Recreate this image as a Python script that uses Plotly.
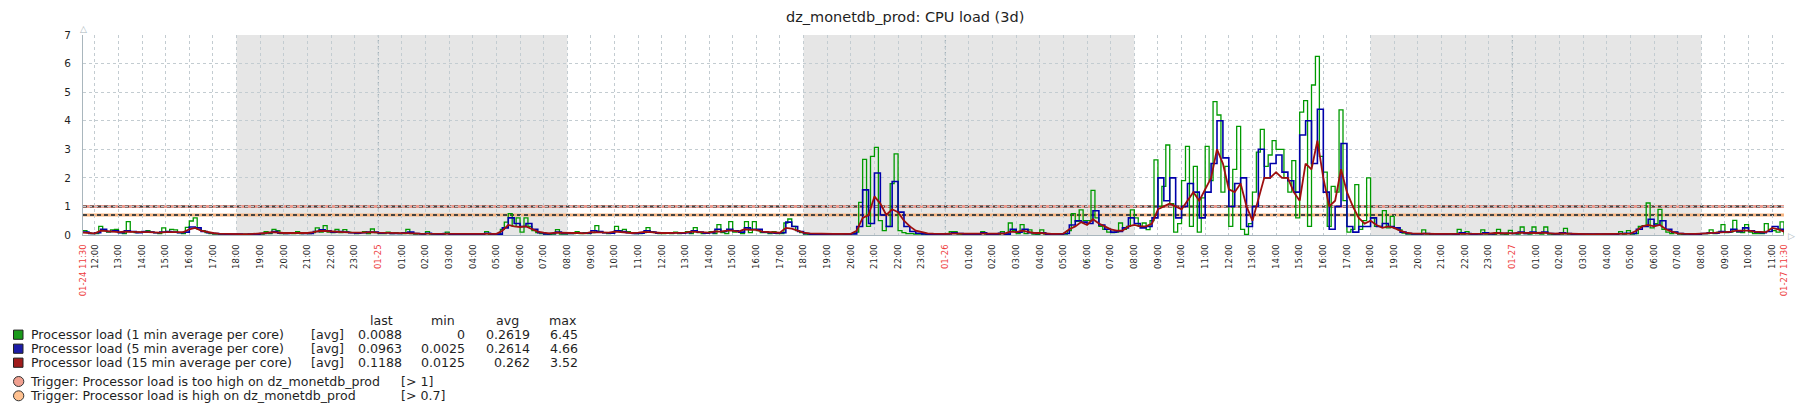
import plotly.graph_objects as go
import pandas as pd

# ---------------- data ----------------
START = "2025-01-24 11:30"
END = "2025-01-27 11:30"

# Processor load (1 min average per core), 10-minute steps from START
green = [
 0.15, 0.08, 0.05,
 0.05, 0.3, 0.15, 0.1, 0.18, 0.2,
 0.08, 0.05, 0.47, 0.12, 0.08, 0.1,
 0.12, 0.15, 0.1, 0.08, 0.05, 0.25,
 0.1, 0.2, 0.18, 0.08, 0.05, 0.27,
 0.49, 0.6, 0.2, 0.15, 0.08, 0.05,
 0.03, 0.03, 0.02, 0.03, 0.02, 0.02,
 0.02, 0.02, 0.03, 0.02, 0.02, 0.02,
 0.03, 0.12, 0.05, 0.2, 0.15, 0.05,
 0.05, 0.08, 0.05, 0.12, 0.05, 0.08,
 0.05, 0.08, 0.25, 0.1, 0.33, 0.1,
 0.08, 0.2, 0.08, 0.19, 0.1, 0.08,
 0.05, 0.08, 0.12, 0.05, 0.21, 0.08,
 0.05, 0.05, 0.1, 0.05, 0.08, 0.05,
 0.05, 0.2, 0.05, 0.03, 0.05, 0.03,
 0.12, 0.03, 0.02, 0.03, 0.02, 0.1,
 0.03, 0.02, 0.02, 0.03, 0.02, 0.02,
 0.02, 0.03, 0.02, 0.12, 0.02, 0.03,
 0.03, 0.2, 0.45, 0.75, 0.3, 0.6,
 0.1, 0.6, 0.3, 0.15, 0.08, 0.05,
 0.03, 0.02, 0.03, 0.19, 0.03, 0.03,
 0.05, 0.05, 0.12, 0.05, 0.08, 0.05,
 0.08, 0.33, 0.12, 0.08, 0.05, 0.08,
 0.3, 0.15, 0.2, 0.12, 0.08, 0.05,
 0.05, 0.08, 0.26, 0.12, 0.08, 0.05,
 0.05, 0.08, 0.05, 0.1, 0.05, 0.08,
 0.12, 0.05, 0.26, 0.08, 0.05, 0.08,
 0.12, 0.05, 0.36, 0.08, 0.05, 0.47,
 0.1, 0.12, 0.05, 0.47, 0.08, 0.47,
 0.15, 0.08, 0.08, 0.05, 0.12, 0.05,
 0.05, 0.42, 0.56, 0.3, 0.15, 0.08,
 0.03, 0.02, 0.02, 0.03, 0.02, 0.05,
 0.03, 0.02, 0.05, 0.03, 0.02, 0.03,
 0.05, 0.1, 1.14, 2.65, 0.3, 2.75,
 3.07, 0.5, 0.15, 0.3, 1.8, 2.84,
 0.15, 0.08, 0.05, 0.05, 0.03, 0.03,
 0.03, 0.02, 0.03, 0.02, 0.03, 0.02,
 0.03, 0.12, 0.12, 0.03, 0.02, 0.03,
 0.03, 0.02, 0.03, 0.12, 0.03, 0.02,
 0.03, 0.02, 0.12, 0.03, 0.42, 0.15,
 0.05, 0.36, 0.05, 0.18, 0.03, 0.02,
 0.18, 0.03, 0.02, 0.03, 0.02, 0.03,
 0.03, 0.15, 0.75, 0.48, 0.88, 0.5,
 0.5, 1.56, 0.6, 0.3, 0.2, 0.1,
 0.08, 0.1, 0.42, 0.2, 0.3, 0.88,
 0.6, 0.3, 0.42, 0.19, 0.5, 2.63,
 1.0, 1.7, 3.15, 1.1, 0.1, 0.4,
 1.9, 3.1, 0.3, 2.4, 0.1, 1.3,
 3.1, 1.9, 4.67, 4.2, 1.5, 2.4,
 0.3, 2.3, 3.8, 0.2, 0.02, 0.4,
 1.5, 2.9, 3.7, 2.4, 2.8, 3.3,
 3.0, 3.0, 2.0, 1.5, 2.6, 0.6,
 4.3, 4.7, 0.3, 5.25, 6.25, 2.75,
 2.2, 0.3, 1.7, 1.5, 4.38, 1.2,
 0.1, 0.2, 1.76, 0.2, 0.5, 2.0,
 0.6, 0.3, 0.3, 0.85, 0.25, 0.65,
 0.25, 0.18, 0.07, 0.03, 0.03, 0.03,
 0.03, 0.18, 0.03, 0.02, 0.03, 0.02,
 0.03, 0.02, 0.03, 0.02, 0.2, 0.03,
 0.12, 0.03, 0.02, 0.03, 0.18, 0.03,
 0.03, 0.02, 0.2, 0.03, 0.02, 0.16,
 0.05, 0.03, 0.28, 0.05, 0.03, 0.28,
 0.05, 0.03, 0.28, 0.03, 0.02, 0.03,
 0.03, 0.23, 0.03, 0.02, 0.03, 0.02,
 0.02, 0.03, 0.02, 0.03, 0.02, 0.03,
 0.03, 0.02, 0.03, 0.12, 0.03, 0.15,
 0.03, 0.05, 0.3, 0.33, 1.12, 0.25,
 0.4, 0.9, 0.2, 0.1, 0.05, 0.1,
 0.03, 0.02, 0.03, 0.02, 0.03, 0.02,
 0.05, 0.05, 0.18, 0.05, 0.1, 0.36,
 0.08, 0.1, 0.51, 0.1, 0.08, 0.36,
 0.1, 0.05, 0.05, 0.05, 0.4, 0.2,
 0.15, 0.1, 0.46, 0.01,
]

# Processor load (5 min average per core), 15-minute steps from START
blue = [
 0.1, 0.05,
 0.08, 0.2, 0.12, 0.15,
 0.08, 0.15, 0.12, 0.08,
 0.12, 0.1, 0.08, 0.1,
 0.12, 0.1, 0.08, 0.1,
 0.28, 0.25, 0.12, 0.08,
 0.05, 0.04, 0.03, 0.03,
 0.03, 0.02, 0.03, 0.03,
 0.05, 0.08, 0.12, 0.06,
 0.05, 0.06, 0.08, 0.05,
 0.05, 0.12, 0.18, 0.15,
 0.1, 0.12, 0.1, 0.08,
 0.06, 0.08, 0.1, 0.1,
 0.06, 0.08, 0.05, 0.05,
 0.08, 0.1, 0.05, 0.04,
 0.06, 0.04, 0.03, 0.05,
 0.03, 0.03, 0.03, 0.03,
 0.03, 0.03, 0.06, 0.03,
 0.03, 0.25, 0.6, 0.4,
 0.3, 0.4, 0.2, 0.08,
 0.04, 0.05, 0.1, 0.05,
 0.05, 0.08, 0.06, 0.06,
 0.15, 0.12, 0.08, 0.06,
 0.15, 0.12, 0.08, 0.05,
 0.06, 0.15, 0.1, 0.06,
 0.06, 0.06, 0.08, 0.06,
 0.08, 0.15, 0.1, 0.06,
 0.08, 0.2, 0.12, 0.2,
 0.15, 0.1, 0.25, 0.2,
 0.2, 0.1, 0.08, 0.06,
 0.08, 0.45, 0.3, 0.12,
 0.05, 0.03, 0.03, 0.03,
 0.03, 0.03, 0.04, 0.03,
 0.04, 0.3, 1.58, 0.4,
 2.17, 0.7, 0.3, 1.87,
 0.8, 0.3, 0.12, 0.06,
 0.04, 0.03, 0.03, 0.03,
 0.04, 0.08, 0.05, 0.03,
 0.03, 0.03, 0.08, 0.03,
 0.03, 0.06, 0.03, 0.2,
 0.1, 0.2, 0.08, 0.05,
 0.08, 0.03, 0.03, 0.03,
 0.05, 0.35, 0.5, 0.45,
 0.4, 0.85, 0.35, 0.2,
 0.1, 0.12, 0.25, 0.6,
 0.4, 0.25, 0.3, 0.6,
 2.0, 1.2, 2.0, 0.6,
 1.0, 1.8, 1.5, 0.6,
 1.5, 2.5, 4.0, 2.7,
 1.0, 1.8, 2.0, 0.3,
 1.0, 3.0, 2.0, 2.5,
 2.8, 2.2, 1.9, 1.5,
 3.5, 4.0, 2.5, 4.4,
 1.5, 0.2, 1.0, 3.2,
 0.3, 0.1, 0.3, 0.3,
 0.6, 0.3, 0.4, 0.3,
 0.25, 0.1, 0.05, 0.04,
 0.04, 0.05, 0.04, 0.03,
 0.03, 0.04, 0.03, 0.08,
 0.05, 0.03, 0.04, 0.08,
 0.04, 0.08, 0.05, 0.06,
 0.05, 0.1, 0.05, 0.1,
 0.06, 0.1, 0.05, 0.04,
 0.08, 0.05, 0.03, 0.03,
 0.03, 0.03, 0.03, 0.03,
 0.03, 0.03, 0.05, 0.06,
 0.05, 0.2, 0.3, 0.55,
 0.35, 0.5, 0.2, 0.1,
 0.05, 0.04, 0.03, 0.03,
 0.05, 0.08, 0.06, 0.12,
 0.1, 0.2, 0.12, 0.25,
 0.15, 0.1, 0.08, 0.12,
 0.3, 0.2, 0.1,
]

# Processor load (15 min average per core), 15-minute steps from START
red = [
 0.08, 0.06,
 0.06, 0.15, 0.14, 0.12,
 0.1, 0.12, 0.11, 0.09,
 0.1, 0.1, 0.09, 0.08,
 0.1, 0.1, 0.09, 0.1,
 0.2, 0.25, 0.15, 0.1,
 0.07, 0.05, 0.04, 0.04,
 0.03, 0.03, 0.03, 0.04,
 0.05, 0.07, 0.1, 0.08,
 0.07, 0.07, 0.07, 0.06,
 0.07, 0.1, 0.14, 0.14,
 0.12, 0.12, 0.1, 0.09,
 0.08, 0.08, 0.09, 0.1,
 0.08, 0.08, 0.07, 0.06,
 0.07, 0.08, 0.06, 0.05,
 0.05, 0.05, 0.04, 0.04,
 0.04, 0.03, 0.03, 0.03,
 0.03, 0.04, 0.05, 0.04,
 0.04, 0.15, 0.35, 0.3,
 0.28, 0.3, 0.2, 0.12,
 0.08, 0.06, 0.08, 0.07,
 0.06, 0.07, 0.07, 0.06,
 0.1, 0.1, 0.09, 0.08,
 0.12, 0.1, 0.08, 0.07,
 0.08, 0.11, 0.1, 0.08,
 0.07, 0.07, 0.08, 0.07,
 0.08, 0.12, 0.1, 0.08,
 0.08, 0.13, 0.12, 0.15,
 0.15, 0.12, 0.2, 0.18,
 0.18, 0.12, 0.1, 0.08,
 0.08, 0.25, 0.22, 0.15,
 0.08, 0.06, 0.05, 0.04,
 0.04, 0.04, 0.04, 0.04,
 0.04, 0.15, 0.6, 0.7,
 1.35, 1.1, 0.7, 0.9,
 0.8, 0.5, 0.3, 0.15,
 0.1, 0.06, 0.05, 0.04,
 0.04, 0.05, 0.05, 0.04,
 0.04, 0.04, 0.05, 0.04,
 0.04, 0.05, 0.05, 0.12,
 0.1, 0.15, 0.1, 0.07,
 0.07, 0.05, 0.04, 0.04,
 0.05, 0.2, 0.3, 0.45,
 0.35, 0.55, 0.4, 0.3,
 0.2, 0.15, 0.15, 0.3,
 0.35, 0.3, 0.3, 0.4,
 0.9, 1.0, 1.1, 1.0,
 0.9, 1.2, 1.5, 1.2,
 1.6, 2.0, 3.0, 2.5,
 1.6, 1.5, 1.8, 1.0,
 0.5, 1.3, 2.0, 2.0,
 2.2, 2.0, 2.0, 1.5,
 1.2, 2.5, 2.3, 3.3,
 2.0, 1.0, 1.2, 2.3,
 1.5, 1.0, 0.6, 0.4,
 0.5, 0.35, 0.25, 0.3,
 0.25, 0.15, 0.08, 0.06,
 0.05, 0.05, 0.04, 0.04,
 0.04, 0.04, 0.04, 0.06,
 0.05, 0.05, 0.05, 0.06,
 0.05, 0.07, 0.06, 0.06,
 0.06, 0.08, 0.07, 0.08,
 0.07, 0.08, 0.06, 0.05,
 0.06, 0.05, 0.04, 0.04,
 0.04, 0.03, 0.03, 0.03,
 0.03, 0.03, 0.04, 0.05,
 0.05, 0.15, 0.3, 0.35,
 0.3, 0.35, 0.2, 0.12,
 0.06, 0.05, 0.04, 0.04,
 0.05, 0.06, 0.06, 0.08,
 0.1, 0.12, 0.15, 0.15,
 0.15, 0.12, 0.1, 0.1,
 0.25, 0.2, 0.12,
]

series_names = [
    "Processor load (1 min average per core)",
    "Processor load (5 min average per core)",
    "Processor load (15 min average per core)",
]
series_func = ["[avg]", "[avg]", "[avg]"]
stat_headers = ["last", "min", "avg", "max"]
stat_last = ["0.0088", "0.0963", "0.1188"]
stat_min = ["0", "0.0025", "0.0125"]
stat_avg = ["0.2619", "0.2614", "0.262"]
stat_max = ["6.45", "4.66", "3.52"]

trigger_names = [
    "Trigger: Processor load is too high on dz_monetdb_prod",
    "Trigger: Processor load is high on dz_monetdb_prod",
]
trigger_values = [1.0, 0.7]
trigger_labels = ["[> 1]", "[> 0.7]"]

title_text = "dz_monetdb_prod: CPU load (3d)"
y_max = 7
night_start_hour = 18
night_end_hour = 8

assert len(green) == 433, len(green)
assert len(blue) == 289, len(blue)
assert len(red) == 289, len(red)

# ---------------- styling ----------------
W, H = 1805, 404
L, R, T, B = 83, 21, 35, 169
PW, PH = W - L - R, H - T - B
FONT = "DejaVu Sans"
TXT = "#1f1f1f"
RED_TXT = "#ee3b3b"
GRID = "#c3ccd1"
GRID_DARK = "#93a4ad"
AXIS = "#a9b6bd"
colors = ["#009a00", "#0000aa", "#9e0f0f"]
legend_fill = ["#1a9a1a", "#1c1ca8", "#a01c1c"]
trig_line = ["#ec9a8e", "#f8b47e"]
trig_fill = ["#f0a090", "#ffc190"]
LEG_FS = 12.6


def px(x):
    return (x - L) / PW


def py(y):
    return (H - B - y) / PH


start = pd.Timestamp(START)
end = pd.Timestamp(END)
green_t = pd.date_range(start, periods=len(green), freq="10min")
blue_t = pd.date_range(start, periods=len(blue), freq="15min")
red_t = pd.date_range(start, periods=len(red), freq="15min")

fig = go.Figure()
for t, v, c, w, shp, nm in [
    (green_t, green, colors[0], 1.3, "hv", series_names[0]),
    (blue_t, blue, colors[1], 1.6, "hv", series_names[1]),
    (red_t, red, colors[2], 1.8, "linear", series_names[2]),
]:
    fig.add_trace(go.Scatter(x=t, y=v, mode="lines", name=nm,
                             line=dict(color=c, width=w, shape=shp),
                             showlegend=False, hoverinfo="skip"))

shapes = []
# night shading
day = start.normalize()
while day <= end:
    ns = day + pd.Timedelta(hours=night_start_hour)
    ne = day + pd.Timedelta(days=1, hours=night_end_hour)
    a, b = max(ns, start), min(ne, end)
    if a < b:
        shapes.append(dict(type="rect", xref="x", yref="paper", x0=a, x1=b, y0=0, y1=1,
                           fillcolor="#e6e6e6", line=dict(width=0), layer="below"))
    day += pd.Timedelta(days=1)

# midnight grid lines (darker)
midnights = pd.date_range(start.ceil("D"), end, freq="D")
for m in midnights:
    shapes.append(dict(type="line", xref="x", yref="paper", x0=m, x1=m, y0=0, y1=1,
                       line=dict(color=GRID_DARK, width=1, dash="3px,3px"), layer="between"))

# trigger lines
for val, col in zip(trigger_values, trig_line):
    shapes.append(dict(type="line", xref="paper", yref="y", x0=0, x1=1, y0=val, y1=val,
                       line=dict(color=col, width=3), layer="between"))
    shapes.append(dict(type="line", xref="paper", yref="y", x0=0, x1=1, y0=val, y1=val,
                       line=dict(color="#444444", width=2, dash="4px,3px"), layer="between"))

annotations = []
# title
annotations.append(dict(text=title_text, x=px(905), y=py(17), xref="paper", yref="paper",
                        showarrow=False, xanchor="center", yanchor="middle",
                        font=dict(family=FONT, size=14.5, color=TXT)))
# axis arrows
annotations.append(dict(text="△", x=px(83.5), y=py(29), xref="paper", yref="paper",
                        showarrow=False, xanchor="center", yanchor="middle",
                        font=dict(family=FONT, size=9, color=AXIS)))
annotations.append(dict(text="▷", x=px(1791), y=py(235.5), xref="paper", yref="paper",
                        showarrow=False, xanchor="center", yanchor="middle",
                        font=dict(family=FONT, size=9, color=AXIS)))

# legend
hdr_right = [395, 457, 521, 579]
val_right = [404, 467, 532, 580]
row_y = [334.7, 348.7, 362.7]
for h, xr in zip(stat_headers, hdr_right):
    annotations.append(dict(text=h, x=px(xr), y=py(320.7), xref="paper", yref="paper",
                            showarrow=False, xanchor="right", yanchor="middle",
                            font=dict(family=FONT, size=LEG_FS, color=TXT)))
for i in range(3):
    yy = row_y[i]
    shapes.append(dict(type="rect", xref="paper", yref="paper",
                       x0=px(13.5), x1=px(23), y0=py(yy - 4.6), y1=py(yy + 4.6),
                       fillcolor=legend_fill[i], line=dict(color="#222222", width=1)))
    annotations.append(dict(text=series_names[i], x=px(28.5), y=py(yy), xref="paper", yref="paper",
                            showarrow=False, xanchor="left", yanchor="middle",
                            font=dict(family=FONT, size=LEG_FS, color=TXT)))
    annotations.append(dict(text=series_func[i], x=px(309), y=py(yy), xref="paper", yref="paper",
                            showarrow=False, xanchor="left", yanchor="middle",
                            font=dict(family=FONT, size=LEG_FS, color=TXT)))
    for vals, xr in zip([stat_last, stat_min, stat_avg, stat_max], val_right):
        annotations.append(dict(text=vals[i], x=px(xr), y=py(yy), xref="paper", yref="paper",
                                showarrow=False, xanchor="right", yanchor="middle",
                                font=dict(family=FONT, size=LEG_FS, color=TXT)))
trig_y = [381.5, 395.8]
for i in range(2):
    yy = trig_y[i]
    shapes.append(dict(type="circle", xref="paper", yref="paper",
                       x0=px(13.5), x1=px(23.8), y0=py(yy - 5), y1=py(yy + 5),
                       fillcolor=trig_fill[i], line=dict(color="#333333", width=1)))
    annotations.append(dict(text=trigger_names[i], x=px(27.5), y=py(yy), xref="paper", yref="paper",
                            showarrow=False, xanchor="left", yanchor="middle",
                            font=dict(family=FONT, size=LEG_FS, color=TXT)))
    annotations.append(dict(text=trigger_labels[i], x=px(399), y=py(yy), xref="paper", yref="paper",
                            showarrow=False, xanchor="left", yanchor="middle",
                            font=dict(family=FONT, size=LEG_FS, color=TXT)))

# x ticks
hours = [hh for hh in pd.date_range(start.ceil("h"), end, freq="h") if hh != end]
tickvals = [start] + hours + [end]
ticktext = [f"<span style='color:{RED_TXT}'>{start.strftime('%m-%d %H:%M')}</span>"]
for hh in hours:
    if hh.hour == 0:
        ticktext.append(f"<span style='color:{RED_TXT}'>{hh.strftime('%m-%d')}</span>")
    else:
        ticktext.append(hh.strftime("%H:%M"))
ticktext.append(f"<span style='color:{RED_TXT}'>{end.strftime('%m-%d %H:%M')}</span>")

fig.update_layout(
    width=W, height=H, autosize=False,
    margin=dict(l=L, r=R, t=T, b=B, pad=0),
    paper_bgcolor="white", plot_bgcolor="white",
    font=dict(family=FONT, size=10, color=TXT),
    showlegend=False,
    shapes=shapes, annotations=annotations,
    xaxis=dict(type="date", range=[start, end], tickmode="array", tickvals=tickvals,
               ticktext=ticktext, tickangle=-90, tickfont=dict(family=FONT, size=8.5, color=TXT),
               showgrid=True, gridcolor=GRID, griddash="3px,3px", gridwidth=1,
               showline=True, linecolor=AXIS, linewidth=1, ticks="", zeroline=False,
               ticklabelstandoff=5, automargin=False),
    yaxis=dict(range=[0, y_max], tickmode="linear", tick0=0, dtick=1,
               tickfont=dict(family=FONT, size=10.5, color=TXT),
               showgrid=True, gridcolor=GRID, griddash="3px,3px", gridwidth=1,
               showline=True, linecolor=AXIS, linewidth=1, ticks="", zeroline=False,
               ticklabelstandoff=9, automargin=False),
)

fig.write_html("out.html", config={"displayModeBar": False},
               post_script="document.body.style.margin='0px';document.body.style.overflow='hidden';")
